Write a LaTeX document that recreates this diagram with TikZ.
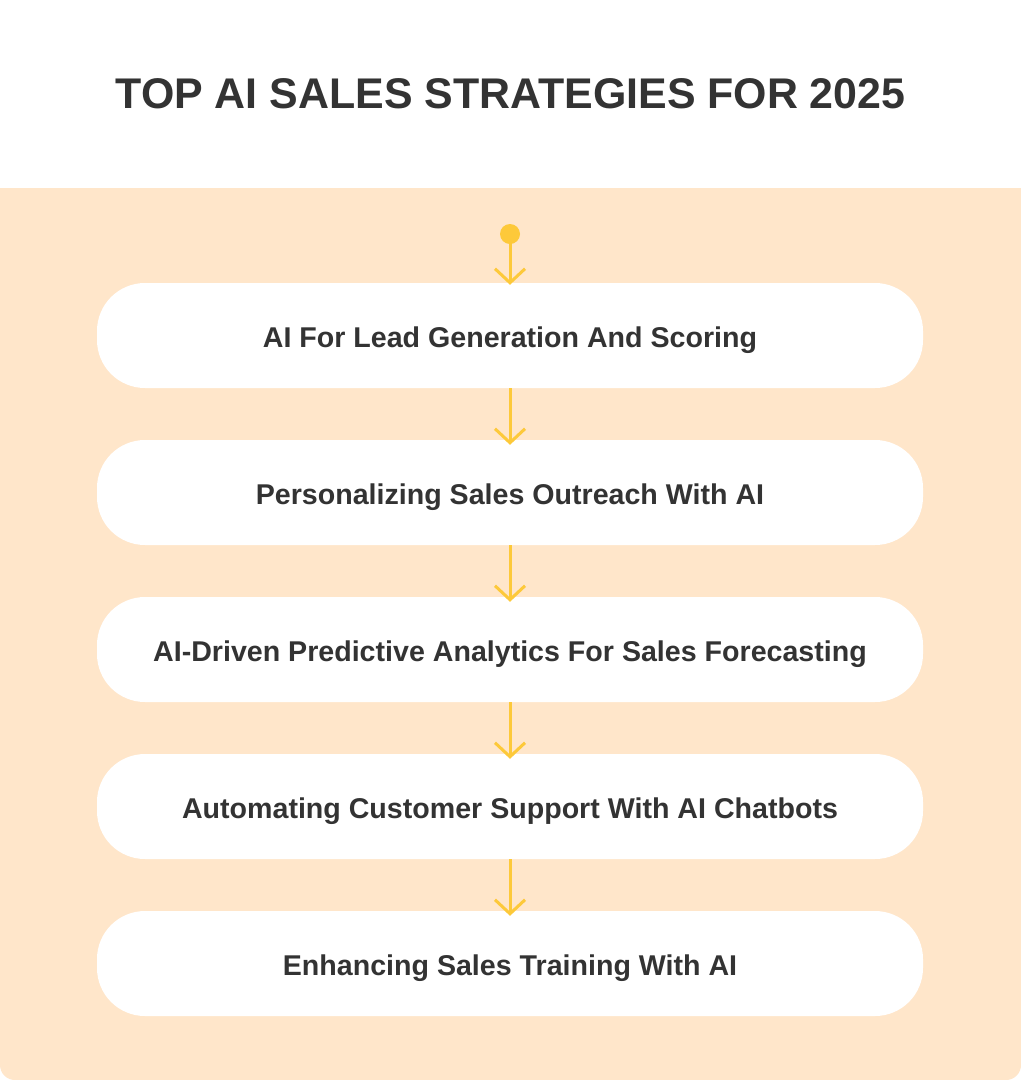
\documentclass[tikz,border=0pt]{standalone}
\usepackage{fontspec}
\setmainfont{Liberation Sans}
\usetikzlibrary{arrows.meta}
\definecolor{peach}{HTML}{FFE6CA}
\definecolor{ink}{HTML}{333333}
\definecolor{gold}{HTML}{FDC93A}
\tikzset{
  stepbox/.style={fill=white, rounded corners=48pt, minimum width=826pt, minimum height=105pt, inner sep=0pt, font=\fontsize{28.6}{34}\selectfont\bfseries, text=ink},
  steptext/.style={font=\fontsize{28.6}{34}\selectfont\bfseries, text=ink, anchor=center, yshift=-5pt},
  flow/.style={draw=gold, line width=3pt, -{Straight Barb[length=14pt,width=30pt,line width=3pt]}}
}
\begin{document}
\begin{tikzpicture}[x=1pt,y=-1pt]
\useasboundingbox (0,0) rectangle (1021,1080);
\fill[white] (0,0) rectangle (1021,1080);
\fill[peach, rounded corners=15pt] (0,188) -- (0,1080) -- (1021,1080) -- (1021,188) [sharp corners] -- cycle;
\fill[peach] (0,188) rectangle (1021,400);
\node[font=\fontsize{42.9}{52}\selectfont\bfseries, text=ink] (title) at (510.5,94) {TOP AI SALES STRATEGIES FOR 2025};
\fill[gold] (510,234) circle (10pt);
\coordinate (dot) at (510,234);
\node[stepbox] (b1) at (510,335.5) {};
\node[stepbox] (b2) at (510,492.5) {};
\node[stepbox] (b3) at (510,649.5) {};
\node[stepbox] (b4) at (510,806.5) {};
\node[stepbox] (b5) at (510,963.5) {};
\node[steptext] (t1) at (b1) {AI For Lead Generation And Scoring};
\node[steptext] (t2) at (b2) {Personalizing Sales Outreach With AI};
\node[steptext] (t3) at (b3) {AI-Driven Predictive Analytics For Sales Forecasting};
\node[steptext] (t4) at (b4) {Automating Customer Support With AI Chatbots};
\node[steptext] (t5) at (b5) {Enhancing Sales Training With AI};
\draw[flow] (dot) -- ([yshift=-2pt]b1.north);
\draw[flow] (b1.south) -- ([yshift=-5pt]b2.north);
\draw[flow] (b2.south) -- ([yshift=-5pt]b3.north);
\draw[flow] (b3.south) -- ([yshift=-5pt]b4.north);
\draw[flow] (b4.south) -- ([yshift=-5pt]b5.north);
\end{tikzpicture}
\end{document}
